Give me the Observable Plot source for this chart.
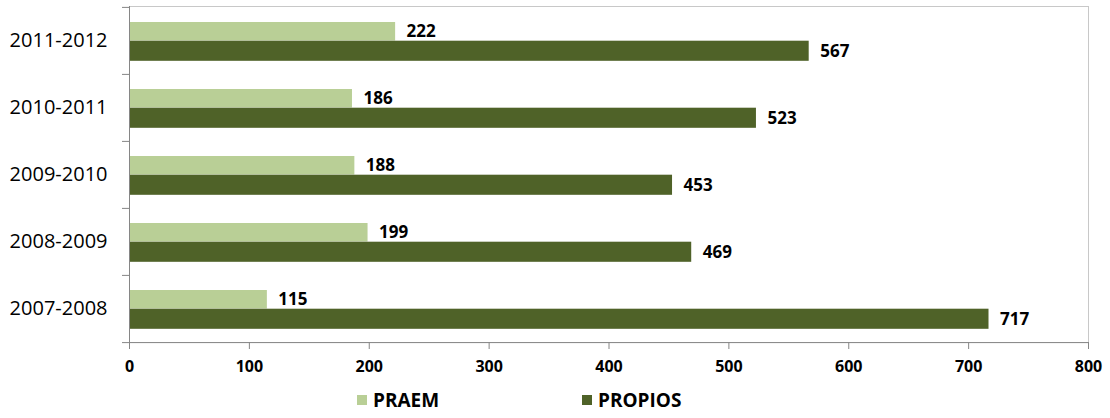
<!DOCTYPE html>
<html>
<head>
<meta charset="utf-8">
<script src="https://cdn.jsdelivr.net/npm/d3@7"></script>
<script src="https://cdn.jsdelivr.net/npm/@observablehq/plot@0.6"></script>
<style>
  html, body { margin: 0; padding: 0; background: #fff; }
  #wrap { position: relative; width: 1110px; height: 418px; overflow: hidden; }
  #legend { position: absolute; left: 0; top: 380px; width: 1110px; height: 38px;
    font-family: "Open Sans", sans-serif; font-weight: bold; font-size: 19px; color: #000; }
  .item { position: absolute; top: 10px; display: flex; align-items: center; height: 20px; }
  .sw { width: 10px; height: 10px; margin-right: 6px; }
</style>
</head>
<body>
<div id="wrap">
  <div id="chart"></div>
  <div id="legend"></div>
</div>
<script>
const years = ["2007-2008", "2008-2009", "2009-2010", "2010-2011", "2011-2012"];
const praem = [115, 199, 188, 186, 222];
const propios = [717, 469, 453, 523, 567];
const seriesNames = ["PRAEM", "PROPIOS"];
const seriesColors = ["#b9cf96", "#4f6228"];
const xTicks = [0, 100, 200, 300, 400, 500, 600, 700, 800];

const rowsPraem = years.map((y, i) => ({year: y, value: praem[i]}));
const rowsPropios = years.map((y, i) => ({year: y, value: propios[i]}));
const yDomain = years.slice().reverse();

const band = 336 / 5;
const font = "Open Sans, sans-serif";

const chart = Plot.plot({
  width: 1110,
  height: 380,
  marginLeft: 129,
  marginRight: 22,
  marginTop: 6,
  marginBottom: 38,
  style: {fontFamily: font, background: "#fff"},
  x: {domain: [0, 800], label: null},
  y: {domain: yDomain, padding: 0, label: null},
  marks: [
    Plot.frame({stroke: "#c8c8c8"}),
    Plot.barX(rowsPraem, {x: "value", y: "year", fill: seriesColors[0], insetTop: 15, insetBottom: 33.5}),
    Plot.barX(rowsPropios, {x: "value", y: "year", fill: seriesColors[1], insetTop: 33.7, insetBottom: 13.2}),
    Plot.text(rowsPraem, {x: "value", y: "year", text: d => String(d.value), dx: 11, dy: -9.2, textAnchor: "start",
      fontWeight: "bold", fontSize: 17, fill: "#000"}),
    Plot.text(rowsPropios, {x: "value", y: "year", text: d => String(d.value), dx: 11, dy: 10.3, textAnchor: "start",
      fontWeight: "bold", fontSize: 17, fill: "#000"}),
    Plot.ruleX([0], {stroke: "#868686"}),
    Plot.ruleY([years[0]], {dy: band / 2, stroke: "#868686"}),
    Plot.axisX({ticks: xTicks, tickSize: 7, tickPadding: 11, stroke: "#868686", fill: "#000",
      fontWeight: "bold", fontSize: 16, tickFormat: d => String(d), label: null}),
    Plot.axisY({tickSize: 0, tickPadding: 22, fontSize: 20, fill: "#000", label: null}),
    Plot.axisY({text: null, tickSize: 7, dy: -band / 2, stroke: "#868686", label: null}),
    Plot.axisY([years[0]], {text: null, tickSize: 7, dy: band / 2, stroke: "#868686", label: null})
  ]
});
document.getElementById("chart").appendChild(chart);

const legend = document.getElementById("legend");
const lx = [357, 582];
seriesNames.forEach((name, i) => {
  const item = document.createElement("div");
  item.className = "item";
  item.style.left = lx[i] + "px";
  const sw = document.createElement("div");
  sw.className = "sw";
  sw.style.background = seriesColors[i];
  const t = document.createElement("span");
  t.textContent = name;
  item.appendChild(sw);
  item.appendChild(t);
  legend.appendChild(item);
});
</script>
</body>
</html>
